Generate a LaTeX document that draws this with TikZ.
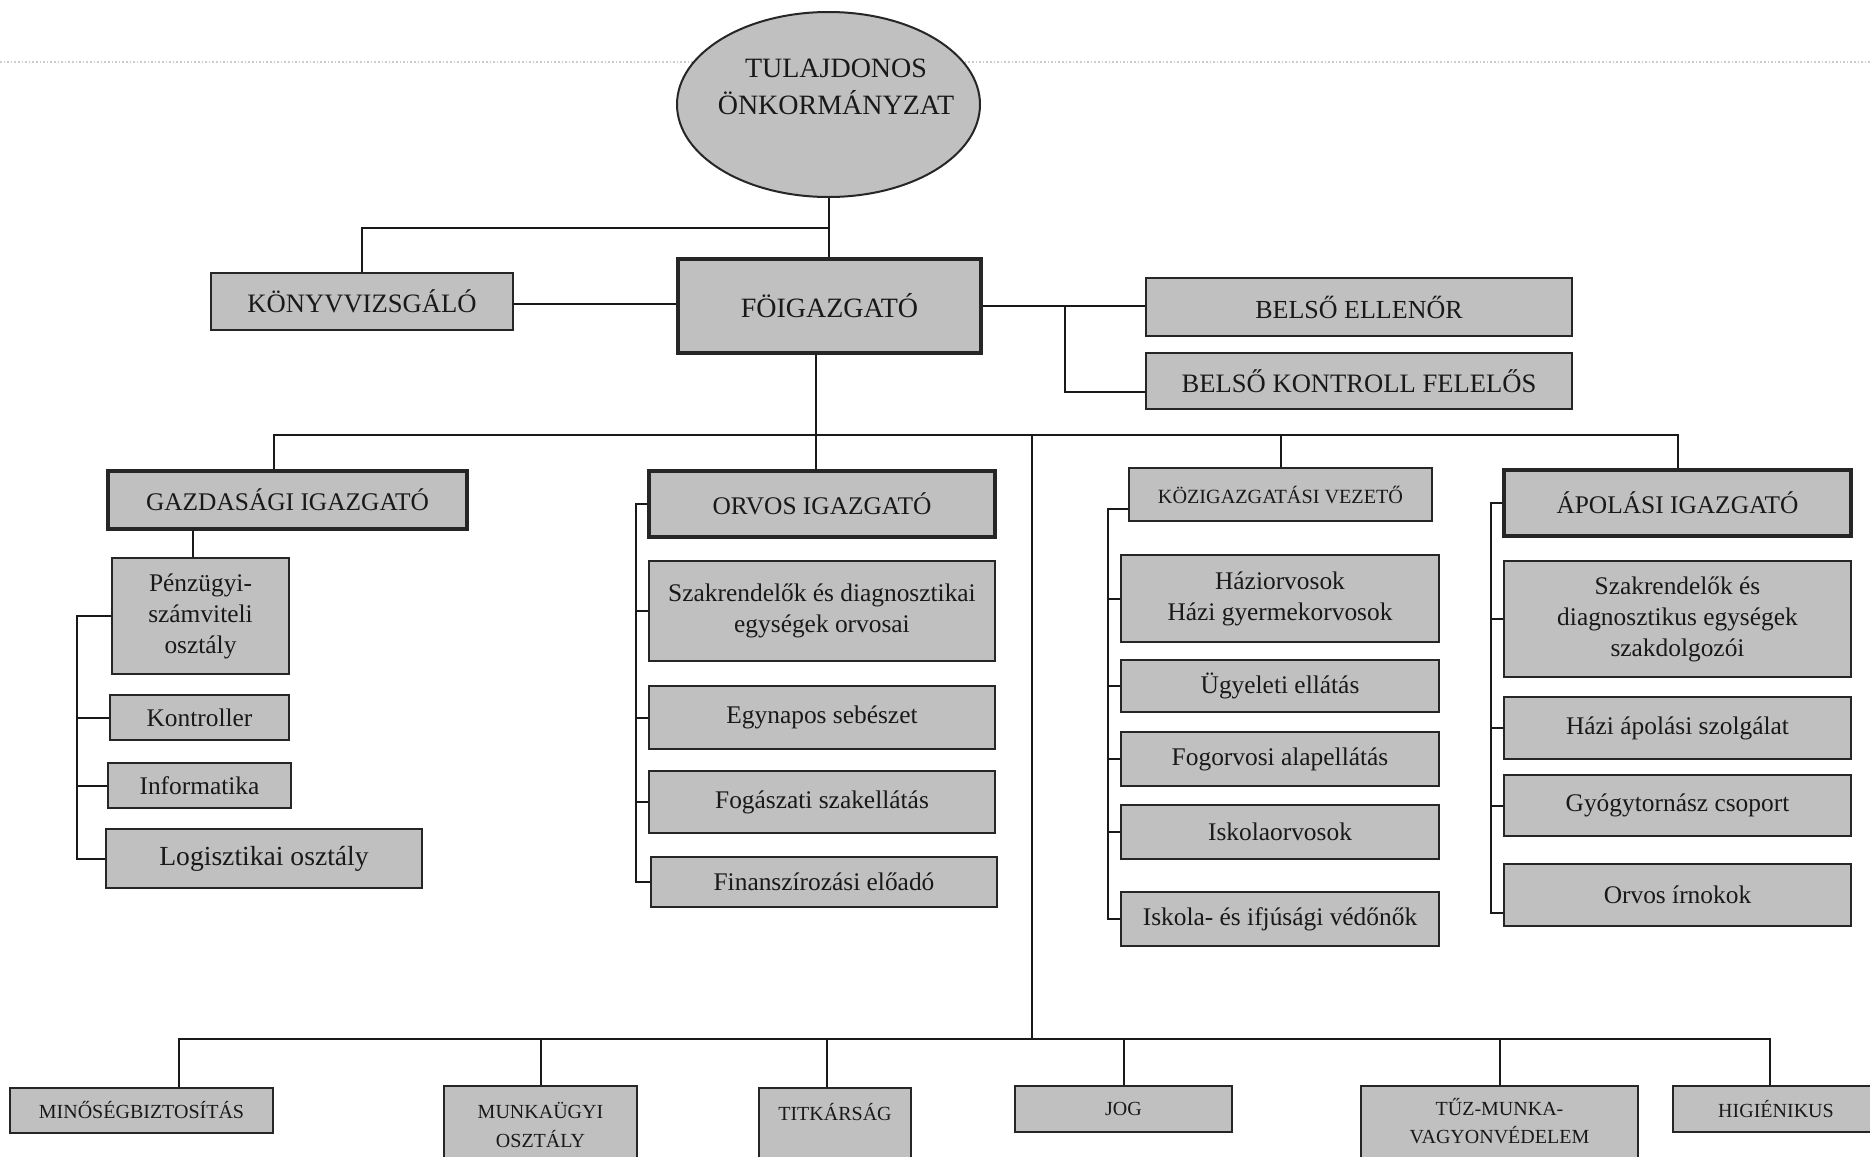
\documentclass[tikz,border=0pt]{standalone}
\usepackage{fontspec}
\setmainfont{Liberation Serif}
\usetikzlibrary{calc,shapes.geometric}
\definecolor{boxgray}{RGB}{192,192,192}

\begin{document}
\begin{tikzpicture}[x=0.5pt, y=-0.5pt,
    unitbox/.style={draw=black!85, fill=boxgray, line width=1pt, inner sep=2pt, align=center,
        text=black!90, font=\fontsize{12.7}{15.5}\selectfont},
    headbox/.style={unitbox, line width=2.2pt},
    smallbox/.style={unitbox, font=\fontsize{10}{14.5}\selectfont},
    link/.style={line width=1pt, draw=black!90}]

    \useasboundingbox (0,0) rectangle (1870,1157);
    \clip (0,0) rectangle (1870,1157);

    % 页眉虚线
    \draw[black!20, densely dotted, line width=0.8pt] (0,62) -- (1870,62);

    % 顶层
    \node[ellipse, draw=black!85, fill=boxgray, line width=1pt, inner sep=0pt,
        minimum width=151.5pt, minimum height=92.5pt] (tulaj) at (828.5,104.5) {};
    \node[align=center, text=black!90, font=\fontsize{14}{18.5}\selectfont] (tulajtxt) at (836,87) {TULAJDONOS\\ÖNKORMÁNYZAT};
    \node[headbox, minimum width=151.5pt, minimum height=47pt, font=\fontsize{14}{17}\selectfont] (fo) at (829.5,306) {FÖIGAZGATÓ};
    \node[unitbox, minimum width=151pt, minimum height=28.5pt, font=\fontsize{13.3}{16}\selectfont] (konyv) at (362,301.5) {KÖNYVVIZSGÁLÓ};
    \node[unitbox, minimum width=213pt, minimum height=29pt, font=\fontsize{13}{16}\selectfont] (belso1) at (1359,307) {BELSŐ ELLENŐR};
    \node[unitbox, minimum width=213pt, minimum height=28pt, font=\fontsize{13.3}{16}\selectfont] (belso2) at (1359,381) {BELSŐ KONTROLL FELELŐS};

    % igazgatók
    \node[headbox, minimum width=179.5pt, minimum height=29pt] (gazd) at (287.5,500) {GAZDASÁGI IGAZGATÓ};
    \node[headbox, minimum width=173pt, minimum height=33pt] (orvos) at (822,504) {ORVOS IGAZGATÓ};
    \node[unitbox, minimum width=151.5pt, minimum height=26.5pt, font=\fontsize{10.1}{12}\selectfont] (koz) at (1280.5,494.5) {KÖZIGAZGATÁSI VEZETŐ};
    \node[headbox, minimum width=173.5pt, minimum height=33pt] (apol) at (1677.5,503) {ÁPOLÁSI IGAZGATÓ};

    % gazdasági egységek
    \node[unitbox, minimum width=88.5pt, minimum height=58pt] (penz) at (200.5,616) {Pénzügyi-\\számviteli\\osztály};
    \node[unitbox, minimum width=89.5pt, minimum height=22.5pt] (kontr) at (199.5,717.5) {Kontroller};
    \node[unitbox, minimum width=91.5pt, minimum height=22.5pt] (info) at (199.5,785.5) {Informatika};
    \node[unitbox, minimum width=158pt, minimum height=29.5pt, font=\fontsize{13.8}{16}\selectfont] (logi) at (264,858.5) {Logisztikai osztály};

    % orvosi egységek
    \node[unitbox, minimum width=173pt, minimum height=50pt] (szak1) at (822,611) {Szakrendelők és diagnosztikai\\egységek orvosai};
    \node[unitbox, minimum width=173pt, minimum height=31.5pt] (egyn) at (822,717.5) {Egynapos sebészet};
    \node[unitbox, minimum width=173pt, minimum height=31pt] (foga) at (822,802) {Fogászati szakellátás};
    \node[unitbox, minimum width=173pt, minimum height=25pt] (fin) at (824,882) {Finanszírozási előadó};

    % közigazgatási egységek
    \node[unitbox, minimum width=159pt, minimum height=43.5pt] (hazi) at (1280,598.5) {Háziorvosok\\Házi gyermekorvosok};
    \node[unitbox, minimum width=159pt, minimum height=26pt] (ugy) at (1280,686) {Ügyeleti ellátás};
    \node[unitbox, minimum width=159pt, minimum height=27pt] (fogo) at (1280,759) {Fogorvosi alapellátás};
    \node[unitbox, minimum width=159pt, minimum height=27pt] (isk) at (1280,832) {Iskolaorvosok};
    \node[unitbox, minimum width=159pt, minimum height=27pt] (vedo) at (1280,919) {Iskola- és ifjúsági védőnők};

    % ápolási egységek
    \node[unitbox, minimum width=173.5pt, minimum height=58pt] (szak2) at (1677.5,619) {Szakrendelők és\\diagnosztikus egységek\\szakdolgozói};
    \node[unitbox, minimum width=173.5pt, minimum height=31pt] (hazap) at (1677.5,728) {Házi ápolási szolgálat};
    \node[unitbox, minimum width=173.5pt, minimum height=30.5pt] (gyogy) at (1677.5,805.5) {Gyógytornász csoport};
    \node[unitbox, minimum width=173.5pt, minimum height=31pt] (irn) at (1677.5,895) {Orvos írnokok};

    % alsó sor
    \node[smallbox, minimum width=131.5pt, minimum height=22.5pt] (minos) at (141.5,1110.5) {MINŐSÉGBIZTOSÍTÁS};
    \node[smallbox, minimum width=96.5pt, minimum height=44.5pt] (munka) at (540.5,1130.5) {};
    \node[align=center, text=black!90, font=\fontsize{10}{14.5}\selectfont] (munkatxt) at (540.5,1125) {MUNKAÜGYI\\OSZTÁLY};
    \node[smallbox, minimum width=76pt, minimum height=43.5pt] (titk) at (835,1131.5) {};
    \node[text=black!90, font=\fontsize{10}{14.5}\selectfont] (titktxt) at (835,1112) {TITKÁRSÁG};
    \node[smallbox, minimum width=108.5pt, minimum height=23pt] (jog) at (1123.5,1109) {JOG};
    \node[smallbox, minimum width=138.5pt, minimum height=44.5pt] (tuz) at (1499.5,1130.5) {};
    \node[align=center, text=black!90, font=\fontsize{10}{14}\selectfont] (tuztxt) at (1499.5,1121) {TŰZ-MUNKA-\\VAGYONVÉDELEM};
    \node[smallbox, minimum width=103pt, minimum height=23pt] (higi) at (1776,1109) {HIGIÉNIKUS};

    % vonalak: felső rész
    \coordinate (kjy) at (0,228);
    \coordinate (bb) at (1065,306);
    \draw[link] (tulaj.south) -- (tulaj.south |- fo.north);
    \draw[link] (konyv.north) |- (tulaj.south |- kjy);
    \draw[link] ([yshift=-1pt]konyv.east) -- ([yshift=-1pt]konyv.east -| fo.west);
    \draw[link] (fo.east) -- (fo.east -| belso1.west);
    \draw[link] (bb) |- ([yshift=-5.5pt]belso2.west);

    % vonalak: igazgatók
    \coordinate (bus1) at (0,435);
    \coordinate (bus2) at (1032,1039);
    \draw[link] ([xshift=-6.75pt]fo.south) -- ([xshift=-6.75pt]fo.south |- orvos.north);
    \draw[link] ([xshift=-7pt]gazd.north) |- (bus1 -| apol.north) -- (apol.north);
    \draw[link] (koz.north) -- (koz.north |- bus1);
    \draw[link] (bus2 |- bus1) -- (bus2);

    % vonalak: alsó sor
    \draw[link] ([xshift=18.75pt]minos.north) |- ([xshift=-3pt]higi.north |- bus2) -- ([xshift=-3pt]higi.north);
    \draw[link] ([xshift=-4pt]titk.north) -- ([xshift=-4pt]titk.north |- bus2);
    \foreach \n in {munka,jog,tuz}
        \draw[link] (\n.north) -- (\n.north |- bus2);

    % vonalak: egységek
    \coordinate (gbr) at (77,0);
    \coordinate (obr) at (636,0);
    \coordinate (kbr) at (1108,0);
    \coordinate (abr) at (1491,0);
    \draw[link] ([xshift=-3.75pt]penz.north |- gazd.south) -- ([xshift=-3.75pt]penz.north);
    \draw[link] (penz.west) -| (gbr |- logi.west) -- (logi.west);
    \foreach \n in {kontr,info}
        \draw[link] (\n.west) -- (\n.west -| gbr);
    \draw[link] (orvos.west) -| (obr |- fin.west) -- (fin.west);
    \foreach \n in {szak1,egyn,foga}
        \draw[link] (\n.west) -- (\n.west -| obr);
    \draw[link] ([yshift=-7pt]koz.west) -| (kbr |- vedo.west) -- (vedo.west);
    \foreach \n in {hazi,ugy,fogo,isk}
        \draw[link] (\n.west) -- (\n.west -| kbr);
    \draw[link] (apol.west) -| (abr |- irn.west) -- ([yshift=-9pt]irn.west -| abr) -- ([yshift=-9pt]irn.west);
    \foreach \n in {szak2,hazap,gyogy}
        \draw[link] (\n.west) -- (\n.west -| abr);

\end{tikzpicture}
\end{document}
